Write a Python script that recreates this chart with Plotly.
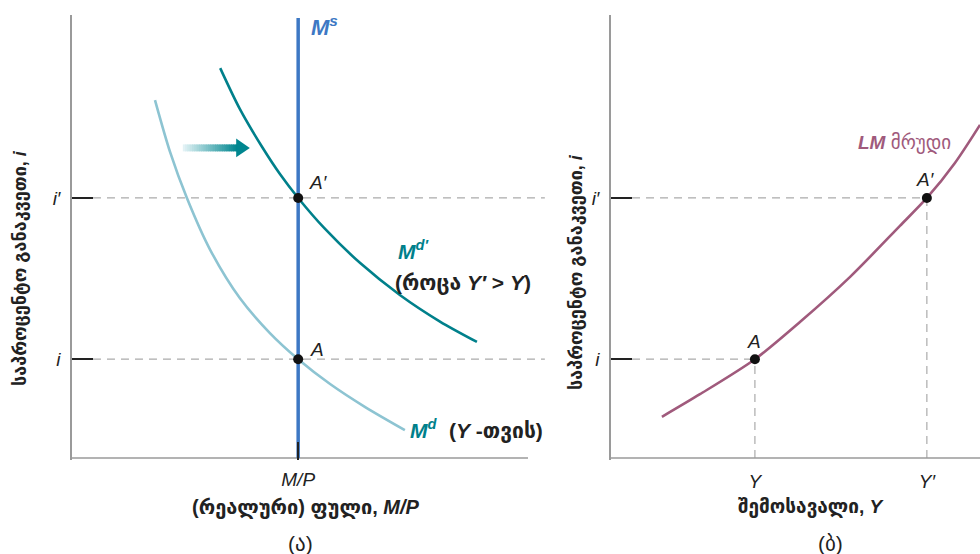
import plotly.graph_objects as go

W, H = 980, 554
FONT = "Liberation Sans, DejaVu Sans"

# ---------------- data ----------------
# left panel: money market (x: real money, y: interest rate)
md_x = [18.2, 21.5, 25.2, 30.3, 36.8, 43.4, 49.6, 56.6, 64.3, 73.0]       # M^d (for Y)
md_y = [80.8, 69.1, 58.7, 47.0, 36.1, 28.2, 22.3, 16.7, 11.5, 6.3]
md2_x = [32.5, 36.8, 41.7, 45.6, 49.6, 55.5, 63.2, 71.9, 80.7, 88.8]      # M^d' (Y' > Y)
md2_y = [88.0, 78.8, 70.2, 64.1, 58.7, 51.7, 44.0, 36.8, 30.8, 26.2]
ms_x = 49.6                                                               # M^s = M/P
ms_top = 99.3
i_low, i_high = 22.3, 58.7                                                # i, i'

# right panel: LM curve (x: income, y: interest rate)
lm_x = [13.8, 24.1, 39.0, 51.2, 64.8, 78.3, 85.6, 93.2, 100.0]
lm_y = [9.3, 14.4, 22.3, 30.7, 40.9, 52.4, 58.7, 66.6, 75.2]
y_low, y_high = 39.0, 85.6                                                # Y, Y'

left_axis_end = 100.0
right_axis_end = 100.0
arrow_x0, arrow_x1, arrow_y = 24.3, 39.0, 70.0

# colours
C_MS = "#3D78C4"
C_MD2 = "#00808B"
C_MD = "#8DC4D2"
C_LM = "#A05A7C"
C_DASH = "#ABABAB"
C_AX = "#9A9A9A"

fig = go.Figure()

def line(x, y, color, width, xa="x", ya="y", dash=None, spline=False):
    fig.add_trace(go.Scatter(
        x=x, y=y, mode="lines", xaxis=xa, yaxis=ya, hoverinfo="skip",
        line=dict(color=color, width=width, dash=dash,
                  shape="spline" if spline else "linear", smoothing=0.8)))

# ---- left panel ----
tick_in_l = 4.6
line([tick_in_l, 103.7], [i_high, i_high], C_DASH, 1.2, dash="8px,6px")
line([tick_in_l, 103.7], [i_low, i_low], C_DASH, 1.2, dash="8px,6px")
line([0, left_axis_end], [0, 0], C_AX, 1.5)
line(md_x, md_y, C_MD, 2.6, spline=True)
line(md2_x, md2_y, C_MD2, 2.6, spline=True)
line([ms_x, ms_x], [0, ms_top], C_MS, 3.5)
fig.add_trace(go.Scatter(x=[ms_x, ms_x], y=[i_high, i_low], mode="markers",
                         marker=dict(color="#111111", size=10), hoverinfo="skip",
                         xaxis="x", yaxis="y"))

# gradient arrow (shaft + head)
N = 24
c0 = (226, 242, 245)
c1 = (0, 134, 143)
shaft_end = arrow_x1 - 2.6
for k in range(N):
    t = k / (N - 1)
    col = "rgb(%d,%d,%d)" % tuple(round(a + (b - a) * t) for a, b in zip(c0, c1))
    xa = arrow_x0 + (shaft_end - arrow_x0) * k / N
    xb = arrow_x0 + (shaft_end - arrow_x0) * (k + 1) / N + 0.15
    fig.add_shape(type="line", xref="x", yref="y", x0=xa, x1=xb, y0=arrow_y, y1=arrow_y,
                  line=dict(color=col, width=7), layer="above")
fig.add_shape(type="path", xref="x", yref="y", layer="above",
              path="M %f %f L %f %f L %f %f Z" % (arrow_x1, arrow_y,
                                                  shaft_end - 0.4, arrow_y + 2.1,
                                                  shaft_end - 0.4, arrow_y - 2.1),
              fillcolor="#00868F", line=dict(width=0))

# ---- right panel ----
tick_in_r = 5.7
line([tick_in_r, y_high], [i_high, i_high], C_DASH, 1.2, "x2", "y2", dash="8px,6px")
line([tick_in_r, y_low], [i_low, i_low], C_DASH, 1.2, "x2", "y2", dash="8px,6px")
line([y_high, y_high], [0, i_high], C_DASH, 1.2, "x2", "y2", dash="8px,6px")
line([y_low, y_low], [0, i_low], C_DASH, 1.2, "x2", "y2", dash="8px,6px")
line([0, right_axis_end], [0, 0], C_AX, 1.5, "x2", "y2")
line(lm_x, lm_y, C_LM, 2.6, "x2", "y2", spline=True)
fig.add_trace(go.Scatter(x=[y_low, y_high], y=[i_low, i_high], mode="markers",
                         marker=dict(color="#111111", size=10), hoverinfo="skip",
                         xaxis="x2", yaxis="y2"))

# ---------------- axes ----------------
ydom = [(H - 460) / H, (H - 15) / H]
yrange = [-0.45, 100.0]
tickfont = dict(family=FONT, size=19, color="#222222")

common_y = dict(range=yrange, domain=ydom, showgrid=False, zeroline=False,
                showline=True, linecolor=C_AX, linewidth=1.5,
                ticks="inside", ticklen=21, tickwidth=1.5, tickcolor="#222222",
                tickvals=[i_low, i_high], ticktext=["<i>i</i>", "<i>i′</i>"],
                tickfont=tickfont, ticklabelstandoff=6, fixedrange=True)

fig.update_layout(
    width=W, height=H, margin=dict(l=0, r=0, t=0, b=0),
    paper_bgcolor="white", plot_bgcolor="white", showlegend=False,
    xaxis=dict(domain=[72 / W, 545 / W], range=[0, 103.73], showgrid=False,
               zeroline=False, showline=False, ticks="inside", ticklen=18,
               tickwidth=2, tickcolor="#222222", tickvals=[ms_x],
               ticktext=["<i>M/P</i>"], tickfont=tickfont, ticklabelstandoff=6,
               fixedrange=True),
    yaxis=dict(anchor="x", **common_y),
    xaxis2=dict(domain=[611 / W, 1.0], range=[0, 100], showgrid=False,
                zeroline=False, showline=False, ticks="", tickvals=[y_low, y_high],
                ticktext=["<i>Y</i>", "<i>Y′</i>"], tickfont=tickfont,
                ticklabelstandoff=8, anchor="y2", fixedrange=True),
    yaxis2=dict(anchor="x2", **common_y),
)

# ---------------- text ----------------
def ann(text, x, y, xref="x", yref="y", size=17, color="#222222", xanchor="left",
        yanchor="middle", angle=0):
    fig.add_annotation(text=text, x=x, y=y, xref=xref, yref=yref, showarrow=False,
                       xanchor=xanchor, yanchor=yanchor, textangle=angle,
                       font=dict(family=FONT, size=size, color=color))

# left panel labels
ann("<b><i>M</i></b><sup><b><i>s</i></b></sup>", 52.0, 97.6, color=C_MS, size=22)
ann("<i>A′</i>", 51.5, 62.1, size=19)
ann("<i>A</i>", 51.7, 24.4, size=19)
ann("<b><i>M</i></b><sup><b><i>d′</i></b></sup>", 71.0, 47.0, color=C_MD2, size=21)
ann("<b>(როცა <i>Y′</i> &gt; <i>Y</i>)</b>", 70.4, 39.4, size=21)
ann("<b><i>M</i></b><sup><b><i>d</i></b></sup>", 73.6, 6.6, color=C_MD2, size=21)
ann("<b>(<i>Y</i> -თვის)</b>", 82.3, 6.2, size=21)

# right panel labels
ann("<b><i>LM</i></b> მრუდი", 66.5, 71.1, "x2", "y2", color=C_LM, size=19)
ann("<i>A′</i>", 82.1, 62.8, "x2", "y2", size=19)
ann("<i>A</i>", 36.2, 26.4, "x2", "y2", size=19)

# axis titles
ann("<b>საპროცენტო განაკვეთი, <i>i</i></b>", 20 / W, (H - 268) / H, "paper", "paper",
    size=18, xanchor="center", angle=-90)
ann("<b>საპროცენტო განაკვეთი, <i>i</i></b>", 576 / W, (H - 272) / H, "paper", "paper",
    size=18, xanchor="center", angle=-90)
ann("<b>(რეალური) ფული, <i>M/P</i></b>", 306 / W, (H - 507) / H, "paper", "paper",
    size=20, xanchor="center")
ann("(ა)", 300 / W, (H - 543) / H, "paper", "paper", size=21, xanchor="center")
ann("<b>შემოსავალი, <i>Y</i></b>", 811 / W, (H - 507) / H, "paper", "paper",
    size=19, xanchor="center")
ann("(ბ)", 830 / W, (H - 543) / H, "paper", "paper", size=21, xanchor="center")

fig.write_html("out.html")
